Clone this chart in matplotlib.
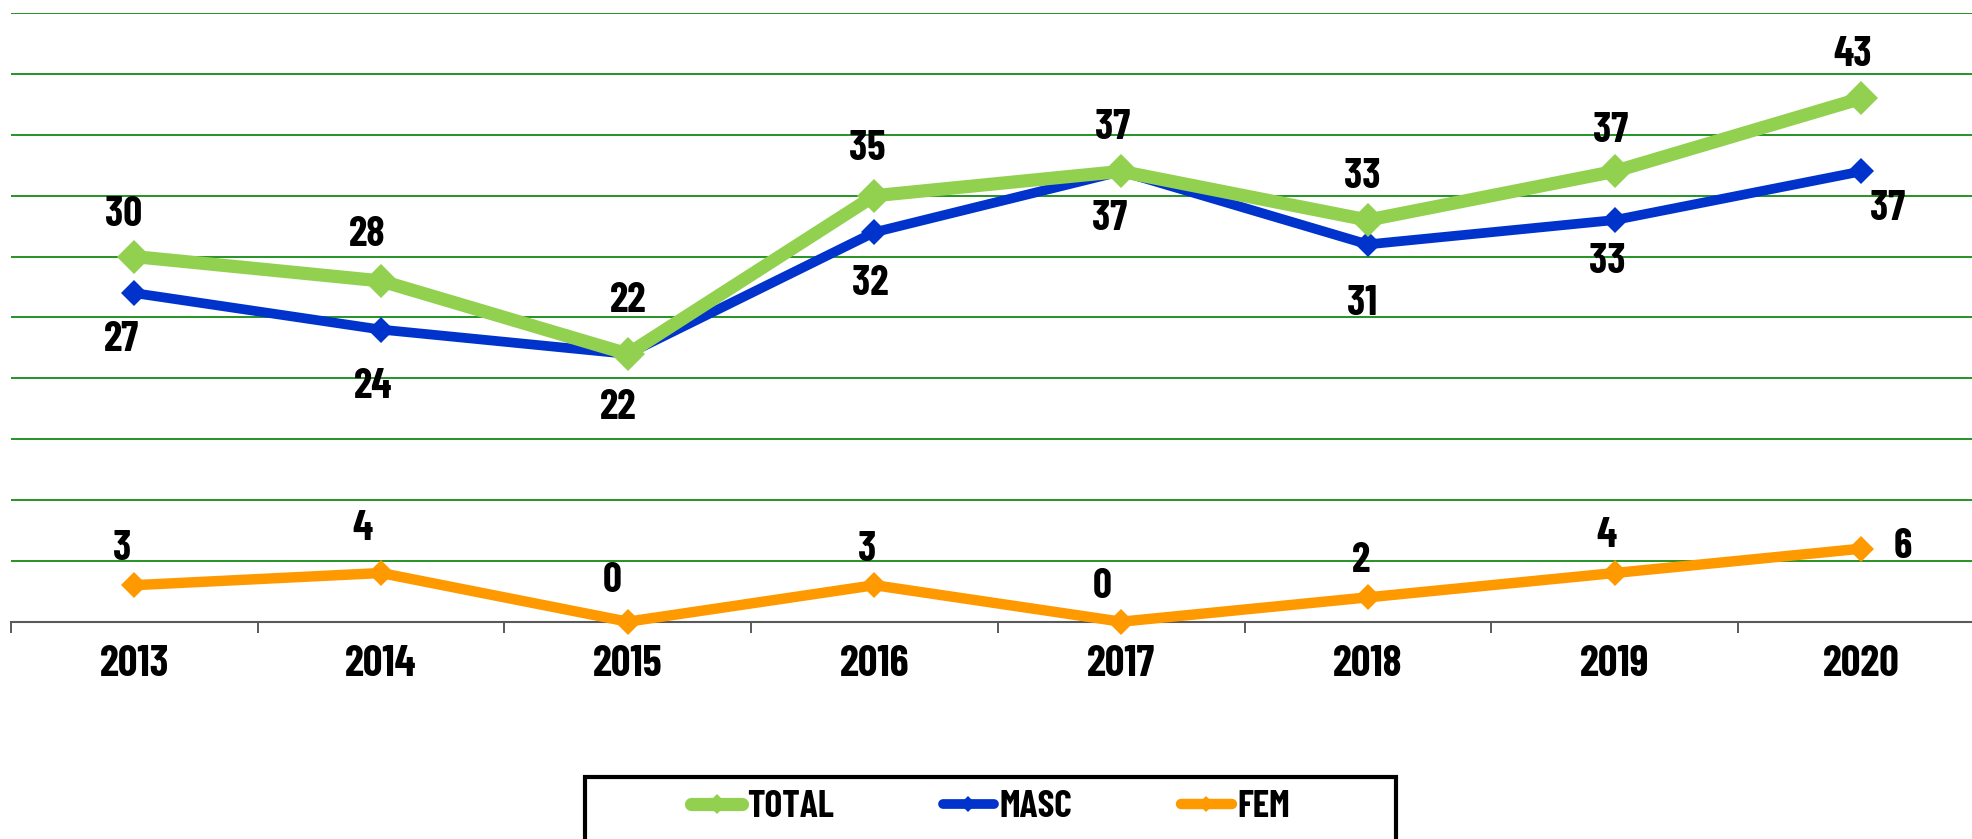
import matplotlib
matplotlib.use("Agg")
import matplotlib.pyplot as plt
from matplotlib.ticker import MultipleLocator, FixedLocator
from matplotlib.patches import Rectangle
import numpy as np

# ---- data ----
years = ["2013", "2014", "2015", "2016", "2017", "2018", "2019", "2020"]
total = [30, 28, 22, 35, 37, 33, 37, 43]
masc = [27, 24, 22, 32, 37, 31, 33, 37]
fem = [3, 4, 0, 3, 0, 2, 4, 6]

# ---- styles ----
FONT = ["Barlow Condensed", "DejaVu Sans"]
plt.rcParams["font.family"] = FONT
plt.rcParams["font.weight"] = "bold"

C_TOTAL = "#92D050"
C_MASC = "#0033CC"
C_FEM = "#FF9900"

# label offsets in points (dx, dy)
off_total = [(-8, 30), (-10, 33), (0, 38), (-5, 34), (-6, 31), (-4, 31), (-3, 29), (-6, 31)]
off_masc = [(-9, -34), (-6, -41), (-7, -39), (-3, -37), (-8, -34), (-4, -43), (-5, -30), (19, -27)]
off_fem = [(-9, 26), (-13, 32), (-11, 29), (-5, 25), (-14, 25), (-5, 26), (-6, 27), (30, 1)]

W, H = 1972, 839
fig = plt.figure(figsize=(W / 100, H / 100), dpi=100)
ax = fig.add_axes([11 / W, 0.2590, 8 * 246.7 / W, 0.7253])

x = np.arange(len(years))

series = [
    (total, C_TOTAL, 9.5, 17, "TOTAL", off_total, 5),
    (masc, C_MASC, 7.0, 13, "MASC", off_masc, 4),
    (fem, C_FEM, 7.5, 13, "FEM", off_fem, 3),
]

handles = []
for vals, col, lw, ms, name, offs, z in series:
    h, = ax.plot(x, vals, color=col, lw=lw, marker="D", ms=ms, mec=col, mew=0,
                 solid_capstyle="round", solid_joinstyle="round", label=name,
                 zorder=z, clip_on=False)
    handles.append(h)
    for xi, v, (dx, dy) in zip(x, vals, offs):
        ax.annotate(str(v), (xi, v), xytext=(dx, dy), textcoords="offset points",
                    ha="center", va="center", fontsize=30, fontweight="bold",
                    color="black", zorder=10, annotation_clip=False)

ax.set_xlim(-0.5, len(years) - 0.5)
ax.set_ylim(0, 50)

# gridlines
ax.yaxis.set_major_locator(MultipleLocator(5))
ax.grid(axis="y", color="#008000", lw=1.2, zorder=0)
ax.set_axisbelow(True)
ax.tick_params(axis="y", left=False, labelleft=False)

# x ticks: labels centered, tick marks at boundaries
ax.set_xticks(x)
ax.set_xticklabels(years, fontsize=31, fontweight="bold")
ax.tick_params(axis="x", which="major", length=0, pad=17)
ax.xaxis.set_minor_locator(FixedLocator(np.arange(-0.5, len(years), 1.0)))
ax.tick_params(axis="x", which="minor", length=8, width=1.2, color="#404040", direction="out")

for s in ["top", "right", "left"]:
    ax.spines[s].set_visible(False)
ax.spines["bottom"].set_color("#595959")
ax.spines["bottom"].set_linewidth(1.5)

# legend frame drawn as a box in figure pixels (extends past bottom edge)
frame = Rectangle((585 / W, -0.05), (1396 - 585) / W, (1 - 777 / H) + 0.05,
                  transform=fig.transFigure, fill=False, edgecolor="black",
                  linewidth=3, zorder=1)
fig.add_artist(frame)

leg = fig.legend(handles=handles, loc="center", bbox_to_anchor=(0.5023, 1 - 807 / H),
                 ncol=3, markerscale=0.6, handlelength=1.35, borderaxespad=0,
                 handletextpad=0.15, columnspacing=2.9, frameon=False,
                 prop={"family": FONT, "weight": "bold", "size": 27})

fig.savefig("out.png", dpi=100)
